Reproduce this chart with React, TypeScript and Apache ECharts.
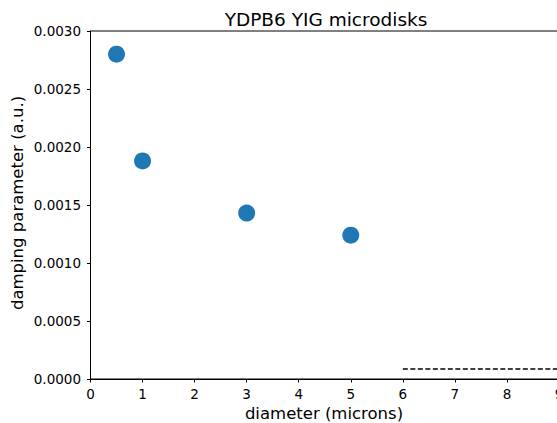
import React, { useEffect, useRef } from "react";
import * as echarts from "echarts";

const diameters = [0.5, 1, 3, 5];
const damping = [0.0028, 0.00188, 0.00143, 0.00124];
const refLineX = [6, 9];
const refLineY = 0.0000865;
const yTicks = [0, 0.0005, 0.001, 0.0015, 0.002, 0.0025, 0.003];

const FONT = "DejaVu Sans";

export default function App() {
  const ref = useRef<HTMLDivElement>(null);
  useEffect(() => {
    const chart = echarts.init(ref.current!, null, { renderer: "svg" });
    chart.setOption({
      animation: false,
      backgroundColor: "#fff",
      textStyle: { fontFamily: FONT },
      grid: {
        left: 90.5,
        top: 31,
        width: 468.5,
        height: 348,
        show: true,
        borderColor: "#000",
        borderWidth: 1,
      },
      xAxis: {
        type: "value",
        min: 0,
        max: 9,
        interval: 1,
        splitLine: { show: false },
        axisLine: { show: true, lineStyle: { color: "#000", width: 1 } },
        axisTick: { show: true, inside: false, length: 3.5, lineStyle: { color: "#000" } },
        axisLabel: { color: "#000", fontSize: 13.5, fontFamily: FONT, margin: 8 },
      },
      yAxis: {
        type: "value",
        min: yTicks[0],
        max: yTicks[yTicks.length - 1],
        interval: 0.0005,
        splitLine: { show: false },
        axisLine: { show: true, lineStyle: { color: "#000", width: 1 } },
        axisTick: { show: true, inside: false, length: 3.5, lineStyle: { color: "#000" } },
        axisLabel: {
          color: "#000",
          fontSize: 13.5,
          fontFamily: FONT,
          margin: 9.5,
          formatter: (v: number) => v.toFixed(4),
        },
      },
      series: [
        {
          type: "scatter",
          data: diameters.map((d, i) => [d, damping[i]]),
          symbolSize: 17,
          itemStyle: { color: "#1f77b4", opacity: 1 },
        },
        {
          type: "line",
          data: refLineX.map((x) => [x, refLineY]),
          symbol: "none",
          lineStyle: { color: "#000", width: 1.5, type: [5, 2.5] },
        },
      ],
      graphic: [
        {
          type: "text",
          x: 326,
          y: 19,
          style: {
            text: "YDPB6 YIG microdisks",
            font: `18.5px "${FONT}"`,
            fill: "#000",
            align: "center",
            verticalAlign: "middle",
          },
        },
        {
          type: "text",
          x: 324,
          y: 413,
          style: {
            text: "diameter (microns)",
            font: `16.5px "${FONT}"`,
            fill: "#000",
            align: "center",
            verticalAlign: "middle",
          },
        },
        {
          type: "text",
          x: 17,
          y: 203,
          rotation: Math.PI / 2,
          style: {
            text: "damping parameter (a.u.)",
            font: `16.5px "${FONT}"`,
            fill: "#000",
            align: "center",
            verticalAlign: "middle",
          },
        },
      ],
    });
    return () => chart.dispose();
  }, []);
  return (
    <div
      ref={ref}
      style={{ position: "fixed", left: 0, top: 0, width: 620, height: 423 }}
    />
  );
}
